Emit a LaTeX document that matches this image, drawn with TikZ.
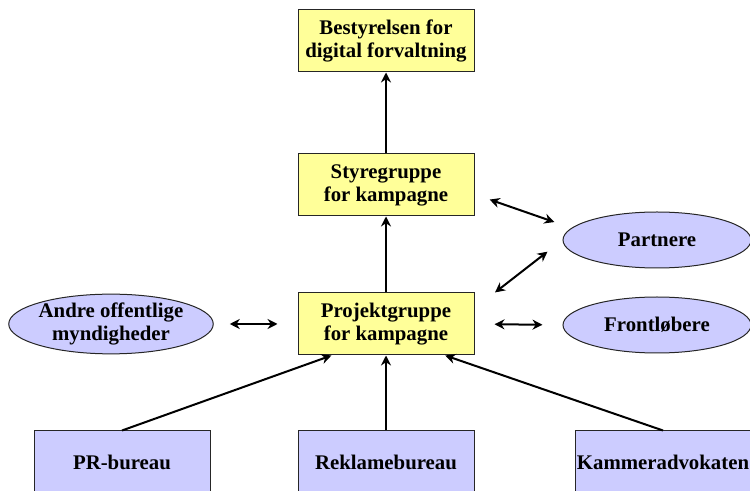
\documentclass[tikz,border=0pt]{standalone}
\usepackage{fontspec}
\setmainfont{Liberation Serif}
\usetikzlibrary{shapes.geometric,arrows.meta}
\definecolor{gul}{HTML}{FFFF99}
\definecolor{lilla}{HTML}{CCCCFF}

\begin{document}
\begin{tikzpicture}[x=0.5pt,y=-0.5pt,
  tekst/.style={align=center,inner sep=0pt,font=\fontsize{10.4}{11.5}\selectfont\bfseries},
  gruppe/.style={tekst,draw=black!85,line width=0.5pt,fill=gul,minimum width=88pt,minimum height=31pt},
  bureau/.style={tekst,draw=black!85,line width=0.5pt,fill=lilla,minimum width=88pt,minimum height=31pt},
  aktoer/.style={tekst,ellipse,draw=black!85,line width=0.5pt,fill=lilla,minimum width=94pt,minimum height=28pt},
  pil/.style={line width=1pt,>={Stealth[length=5pt,width=5pt]}}]
\useasboundingbox (0,0) rectangle (750,491);
\clip (0,0) rectangle (750,491);

\node[gruppe] (best) at (386,41) {Bestyrelsen for\\digital forvaltning};
\node[gruppe] (sty) at (386,185) {Styregruppe\\for kampagne};
\node[gruppe] (proj) at (386,324) {Projektgruppe\\for kampagne};

\node[aktoer,minimum width=98.5pt,minimum height=27.5pt] (andre) at (111,324) {Andre offentlige\\myndigheder};
\node[aktoer] (part) at (657,240) {Partnere};
\node[aktoer] (front) at (657,325) {Frontløbere};

\node[bureau] (pr) at (122,462) {PR-bureau};
\node[bureau] (rekl) at (386,462) {Reklamebureau};
\node[bureau] (kam) at (663,462) {Kammeradvokaten};

\draw[->,pil] (sty) edge[] (best) ;
\draw[->,pil] (proj) edge[] (sty) ;

\draw[<->,pil,shorten <=8pt,shorten >=9pt] (sty.-6) -- (part.172) ;
\draw[<->,pil,shorten <=13pt,shorten >=9.5pt] (proj.10) -- (part.west) ;
\draw[<->,pil,shorten <=10pt,shorten >=10pt] (proj.east) -- (front.west) ;
\draw[<->,pil,shorten <=8pt,shorten >=10pt] (andre.east) -- (proj.west) ;

\draw[->,pil] (pr.north) -- (proj.210) ;
\draw[->,pil] (rekl) edge[] (proj) ;
\draw[->,pil] (kam.north) -- (proj.-28) ;

\end{tikzpicture}
\end{document}
